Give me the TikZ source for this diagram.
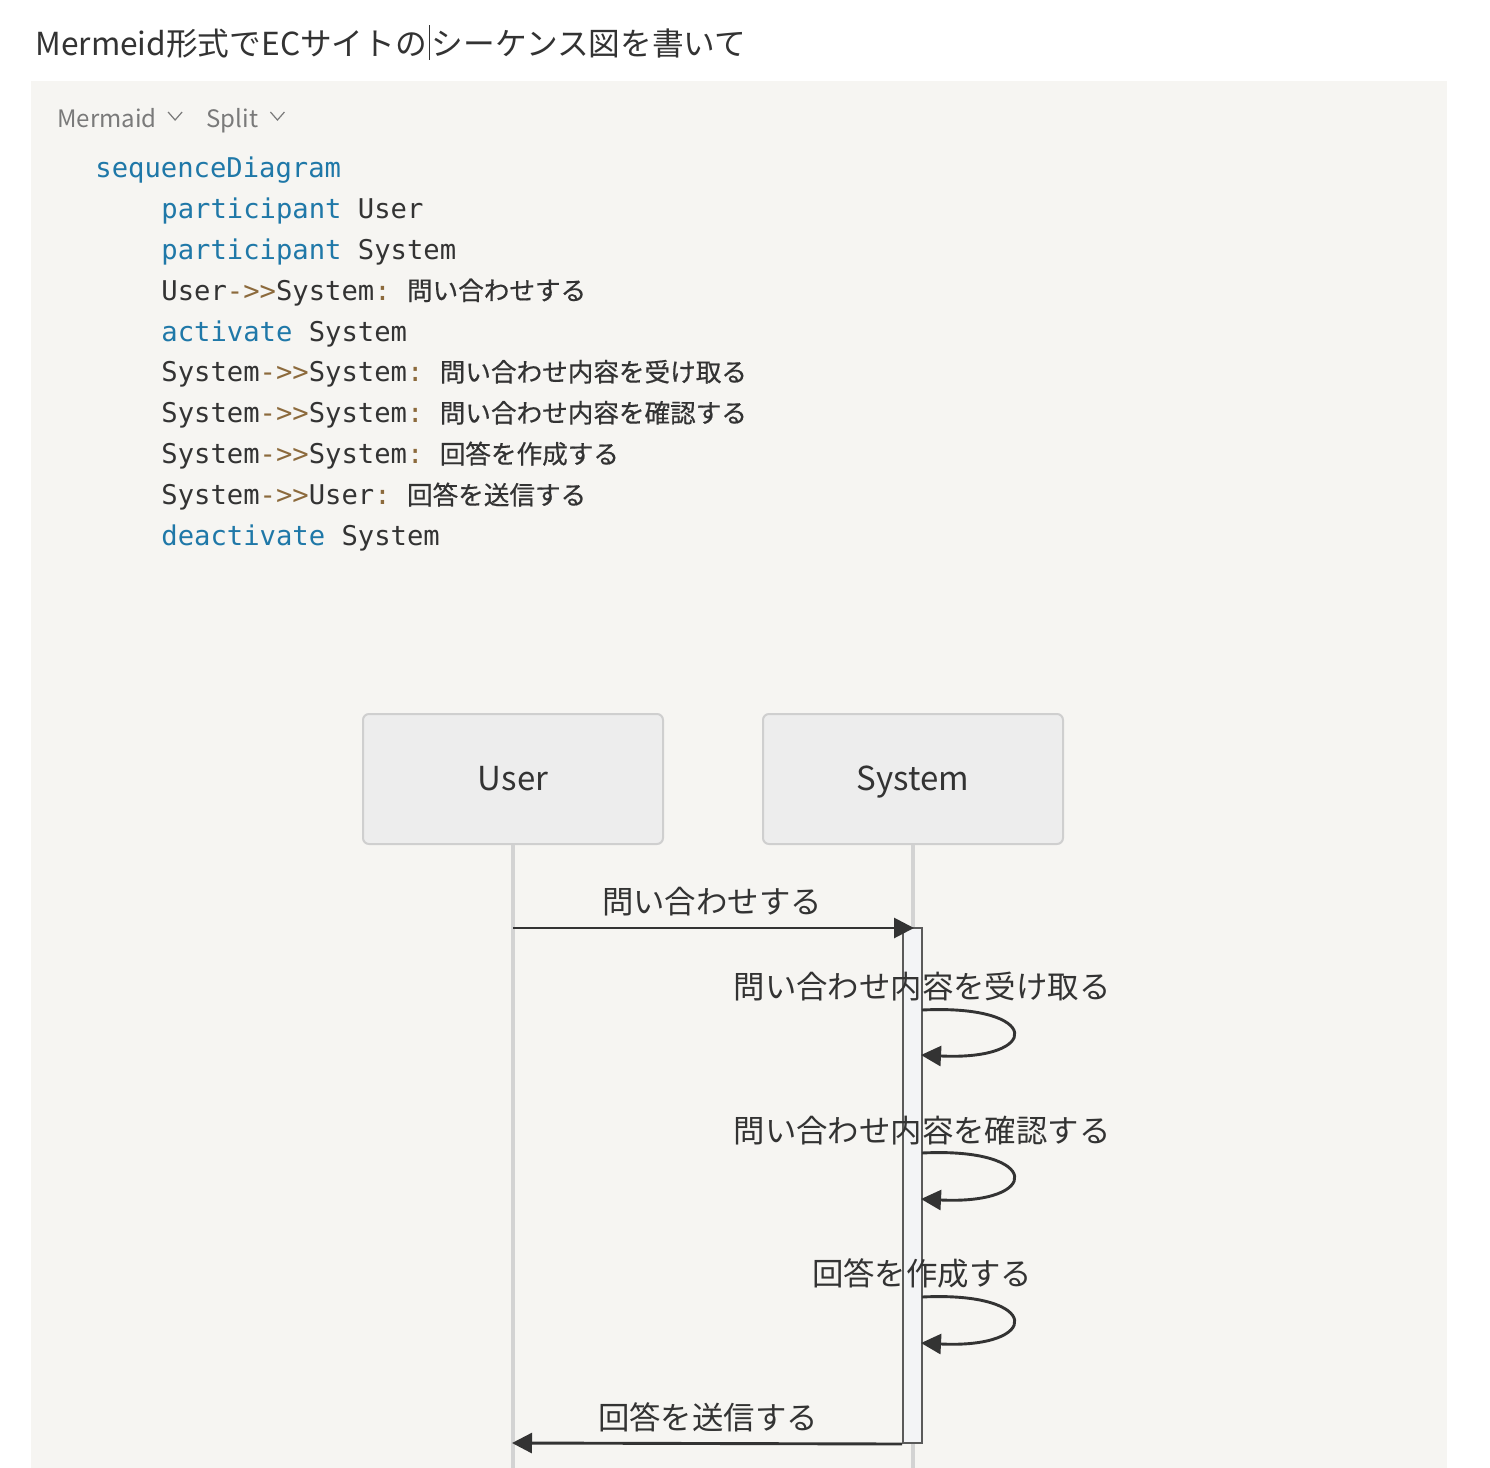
\documentclass[tikz,border=0pt]{standalone}
\usepackage{fontspec}
\setmainfont{Noto Sans CJK JP}
\setmonofont{DejaVu Sans Mono}
\newfontfamily\cjk{Noto Sans CJK JP}
\newfontfamily\cjkcode[FakeBold=0.5]{Noto Sans CJK JP}
\usepackage{tikz}
\usetikzlibrary{arrows.meta, positioning, calc}
\definecolor{ink}{HTML}{333333}
\definecolor{codebg}{HTML}{F6F5F2}
\definecolor{menugray}{HTML}{7A7A7A}
\definecolor{kwblue}{HTML}{1F78A8}
\definecolor{opbrown}{HTML}{8C6A3C}
\definecolor{boxfill}{HTML}{EDEDED}
\definecolor{boxline}{HTML}{CFCFCF}
\definecolor{lifegray}{HTML}{D3D3D3}
\definecolor{actfill}{HTML}{F3F4F6}
\definecolor{actline}{HTML}{5A5A5A}
\tikzset{
  heading/.style={anchor=base west, inner sep=0pt, text=ink, font=\fontsize{15.85}{18}\selectfont},
  menu/.style={anchor=base west, inner sep=0pt, text=menugray, font=\fontsize{12}{14}\selectfont},
  chevron/.style={draw=menugray, line width=0.6pt},
  codeline/.style={anchor=base west, inner sep=0pt, text=ink, font=\ttfamily\fontsize{13.6}{16}\selectfont},
  participantbox/.style={draw=boxline, fill=boxfill, rounded corners=3pt, line width=1pt,
    minimum width=150pt, minimum height=65pt, text height=11.5pt, text depth=0pt,
    text=ink, font=\fontsize{16.5}{19}\selectfont},
  lifeline/.style={draw=lifegray, line width=1.6pt},
  activation/.style={draw=actline, fill=actfill, line width=1pt, inner sep=0pt,
    minimum width=9.5pt, minimum height=257.5pt},
  msgline/.style={draw=ink, line width=1.45pt, -{Triangle[length=10pt, width=10pt]}},
  msglabel/.style={anchor=base, inner sep=0pt, text=ink, font=\fontsize{15.7}{18}\selectfont}
}
\newcommand{\kw}[1]{\textcolor{kwblue}{#1}}
\newcommand{\op}[1]{\textcolor{opbrown}{#1}}
\newcommand{\jp}[1]{{\cjkcode\fontsize{12.8}{16}\selectfont #1}}

\begin{document}
\begin{tikzpicture}[x=0.5pt, y=-0.5pt]
        \useasboundingbox (0,0) rectangle (1490,1468);
        \fill[white] (0,0) rectangle (1490,1468);

        % Prompt line with caret
        \node[heading] (prompt) at (35,55) {Mermeid形式でECサイトの};
        \coordinate (caretTop) at ($(prompt.base east)+(2,-30)$);
        \coordinate (caretBot) at ($(prompt.base east)+(2,5)$);
        \draw[ink, line width=0.6pt] (caretTop) -- (caretBot);
        \node[heading] (promptRest) at ($(prompt.base east)+(4,0)$) {シーケンス図を書いて};

        % Code block
        \fill[codebg] (31,81) rectangle (1447,1468);
        \node[menu] (modeSel) at (57,127) {Mermaid};
        \draw[chevron] ($(modeSel.base east)+(11,-15)$) -- ++(7,8) -- ++(7,-8);
        \node[menu] (viewSel) at (206,127) {Split};
        \draw[chevron] ($(viewSel.base east)+(12,-15)$) -- ++(7,8) -- ++(7,-8);

        \node[codeline] (c1)  at (95,177)    {\kw{sequenceDiagram}};
        \node[codeline] (c2)  at (161,218)   {\kw{participant} User};
        \node[codeline] (c3)  at (161,259)   {\kw{participant} System};
        \node[codeline] (c4)  at (161,300)   {User\op{->>}System\op{:} \jp{問い合わせする}};
        \node[codeline] (c5)  at (161,341)   {\kw{activate} System};
        \node[codeline] (c6)  at (161,381.5) {System\op{->>}System\op{:} \jp{問い合わせ内容を受け取る}};
        \node[codeline] (c7)  at (161,422.5) {System\op{->>}System\op{:} \jp{問い合わせ内容を確認する}};
        \node[codeline] (c8)  at (161,463.5) {System\op{->>}System\op{:} \jp{回答を作成する}};
        \node[codeline] (c9)  at (161,504.5) {System\op{->>}User\op{:} \jp{回答を送信する}};
        \node[codeline] (c10) at (161,545.5) {\kw{deactivate} System};

        % Participants
        \node[participantbox] (user)   at (513,779) {User};
        \node[participantbox] (system) at (913,779) {System};

        % Lifelines
        \coordinate (userEnd)   at (513,1468);
        \coordinate (systemEnd) at (913,1468);
        \draw[lifeline] (user.south) -- (userEnd);
        \draw[lifeline] (system.south) -- (systemEnd);

        % Activation
        \node[activation] (act) at (912.5,1185.5) {};

        % Messages
        \coordinate (askFrom) at (513,928);
        \coordinate (askTo)   at (914,928);
        \draw[msgline] (askFrom) -- (askTo);
        \node[msglabel] (askLbl) at (712,913) {問い合わせする};

        \coordinate (recvOut) at (922,1010);
        \coordinate (recvIn)  at (921,1055);
        \draw[msgline] (recvOut) .. controls +(121,-6) and +(121,6) .. (recvIn);
        \node[msglabel] (recvLbl) at (922,998) {問い合わせ内容を受け取る};

        \coordinate (checkOut) at (922,1153);
        \coordinate (checkIn)  at (921,1199);
        \draw[msgline] (checkOut) .. controls +(121,-6) and +(121,6) .. (checkIn);
        \node[msglabel] (checkLbl) at (922,1142) {問い合わせ内容を確認する};

        \coordinate (makeOut) at (922,1297);
        \coordinate (makeIn)  at (921,1343);
        \draw[msgline] (makeOut) .. controls +(121,-6) and +(121,6) .. (makeIn);
        \node[msglabel] (makeLbl) at (922,1285) {回答を作成する};

        \coordinate (replyTo) at (512,1443);
        \draw[msgline] (act.south west) -- (replyTo);
        \node[msglabel] (replyLbl) at (708,1429) {回答を送信する};
    \end{tikzpicture}
\end{document}
